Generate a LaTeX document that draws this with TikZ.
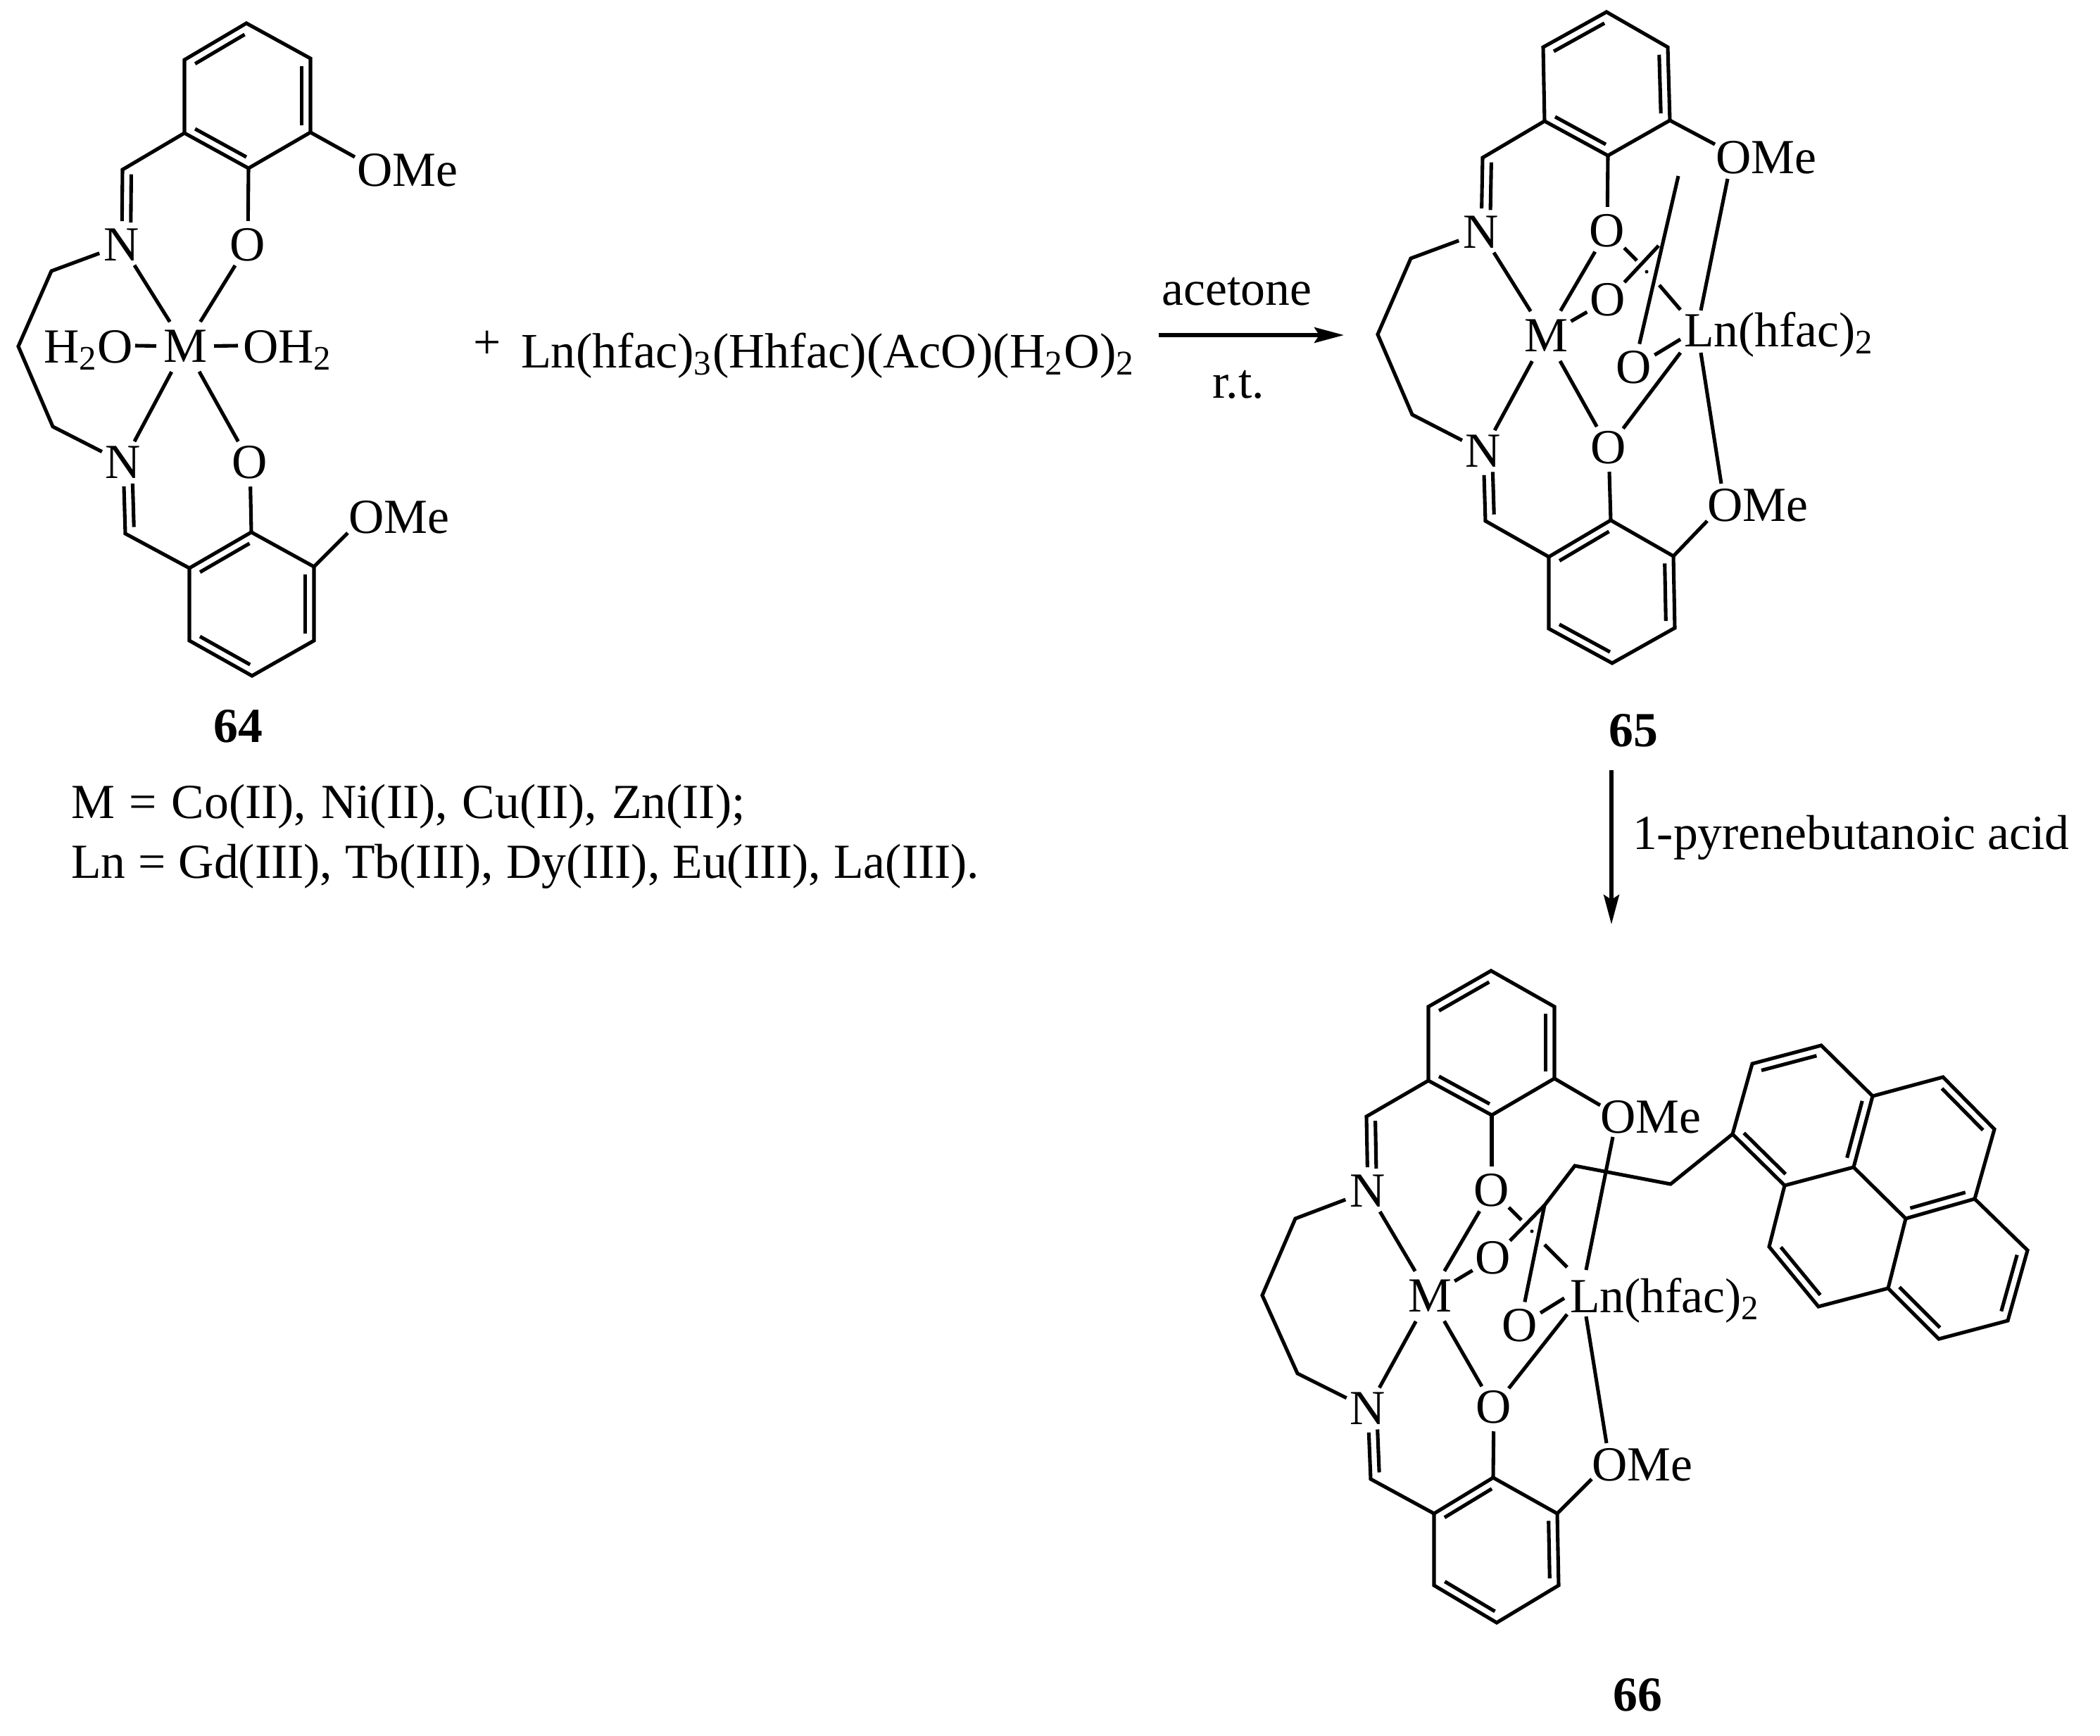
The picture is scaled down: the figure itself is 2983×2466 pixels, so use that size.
\documentclass[tikz,border=0pt]{standalone}
\usepackage{fontspec}
\setmainfont{Liberation Serif}
\usetikzlibrary{calc,arrows.meta}
\newcommand{\dbl}[2]{\draw ($(#1)!.1!(#2)!.125cm!-90:(#2)$) -- ($(#1)!.9!(#2)!.125cm!-90:(#2)$);}
\newcommand{\dblf}[4]{\draw ($(#1)!#3!(#2)!.125cm!-90:(#2)$) -- ($(#1)!#4!(#2)!.125cm!-90:(#2)$);}
\tikzset{
  every node/.style={font=\fontsize{19.8}{24}\selectfont,inner sep=0pt,outer sep=0pt},
  atomO/.style={circle,minimum size=.56cm},
  atomN/.style={circle,minimum size=.6cm},
  atomM/.style={circle,minimum size=.82cm},
  lab/.style={anchor=base west},
  cmpd/.style={font=\fontsize{19.8}{24}\selectfont\bfseries},
  rxn/.style={line width=1.5pt,-{Stealth[length=.42cm,width=.22cm,inset=.07cm]}}
}
\begin{document}
\begin{tikzpicture}[x=.01cm,y=-.01cm,line width=1.45pt]
\useasboundingbox (0,0) rectangle (2983,2466);
% ---------- 64
\coordinate (a1) at (350,33); \coordinate (a2) at (441,83); \coordinate (a3) at (441,188);
\coordinate (a4) at (353,239); \coordinate (a5) at (262,189); \coordinate (a6) at (262,85);
\coordinate (a7) at (174,241);
\node[atomN] (aN1) at (173,348) {N};
\node[atomO] (aO1) at (352,348) {O};
\node[lab] (aOMe1) at (507,264) {OMe};
\node[atomM] (aM) at (263,492) {M};
\node[lab] (aH2O) at (62,515) {H\textsubscript{2}O};
\node[lab] (aOH2) at (345,515) {OH\textsubscript{2}};
\node[atomN] (aN2) at (175,657) {N};
\node[atomO] (aO2) at (355,657) {O};
\node[lab] (aOMe2) at (495,757) {OMe};
\coordinate (a8) at (26,492); \coordinate (a9) at (73,385); \coordinate (a10) at (75,606);
\coordinate (a11) at (178,758);
\coordinate (b1) at (357,756); \coordinate (b2) at (446,805); \coordinate (b3) at (446,910);
\coordinate (b4) at (358,960); \coordinate (b5) at (269,910); \coordinate (b6) at (269,807);
\coordinate (aE1) at (504,223); \coordinate (aE2) at (494,757);
\coordinate (aE3) at (192,491); \coordinate (aE4) at (338,491);
\draw (a1)--(a2)--(a3)--(a4)--(a5)--(a6)--cycle;
\dbl{a6}{a1} \dbl{a2}{a3} \dbl{a4}{a5}
\draw (a5)--(a7)--(aN1); \dblf{aN1}{a7}{.3}{.94}
\draw (a3)--(aE1); \draw (a4)--(aO1);
\draw (aN1)--(aM); \draw (aO1)--(aM); \draw (aN2)--(aM); \draw (aO2)--(aM);
\draw (aE3)--(aM); \draw (aE4)--(aM);
\draw (aN1)--(a9)--(a8)--(a10)--(aN2);
\draw (aN2)--(a11)--(b6); \dblf{a11}{aN2}{.09}{.7}
\draw (aO2)--(b1);
\draw (b1)--(b2)--(b3)--(b4)--(b5)--(b6)--cycle;
\dbl{b6}{b1} \dbl{b2}{b3} \dbl{b4}{b5}
\draw (b2)--(aE2);
\node[cmpd] (n64) at (338,1032) {64};
\node[lab] (t1) at (101,1162) {\spaceskip=.3em\relax M = Co(II), Ni(II), Cu(II), Zn(II);};
\node[lab] (t2) at (101,1247) {\spaceskip=.26em\relax Ln = Gd(III), Tb(III), Dy(III), Eu(III), La(III).};
\node (plus) at (692,490) {+};
\node[lab,font=\fontsize{20}{24}\selectfont] (reag) at (740,522) {Ln(hfac)\textsubscript{3}(Hhfac)(AcO)(H\textsubscript{2}O)\textsubscript{2}};
% reaction 1
\coordinate (r1s) at (1646,476); \coordinate (r1e) at (1909,476);
\draw[rxn] (r1s)--(r1e);
\node[anchor=base] (acet) at (1757,433) {acetone};
\node[anchor=base] (rt) at (1759,565) {r.t.};
% ---------- 65
\coordinate (c1) at (2282,17); \coordinate (c2) at (2369,67); \coordinate (c3) at (2372,171);
\coordinate (c4) at (2284,221); \coordinate (c5) at (2194,172); \coordinate (c6) at (2192,67);
\coordinate (c7) at (2106,224);
\node[atomN] (cN1) at (2104,330) {N};
\node[atomO] (cO1) at (2283,328) {O};
\node[lab] (cOMe1) at (2437,246) {OMe};
\node[atomM] (cM) at (2196,477) {M};
\node[atomO] (cO2) at (2284,426) {O};
\node[atomO] (cO3) at (2321,522) {O};
\node[atomO] (cO4) at (2285,636) {O};
\node[atomN] (cN2) at (2107,641) {N};
\node[lab] (cOMe2) at (2425,740) {OMe};
\node[lab] (cLn) at (2392,492) {Ln(hfac)\textsubscript{2}};
\coordinate (cC) at (2356,349); \coordinate (cMe) at (2384,250);
\coordinate (cE1) at (2436,205); \coordinate (cE2) at (2325,370); \coordinate (cD) at (2339,386);
\coordinate (cE3) at (2357,405); \coordinate (cL1) at (2387,440);
\coordinate (cL2) at (2387,501); \coordinate (cL3) at (2387,482);
\coordinate (cL4) at (2416,441); \coordinate (cE4) at (2454,254);
\coordinate (cL5) at (2416,501); \coordinate (cE5) at (2445,687);
\coordinate (cE6) at (2425,740);
\coordinate (c8) at (2004,367); \coordinate (c9) at (1957,475); \coordinate (c10) at (2006,589);
\coordinate (c11) at (2110,740);
\coordinate (d1) at (2288,739); \coordinate (d2) at (2377,790); \coordinate (d3) at (2379,892);
\coordinate (d4) at (2290,942); \coordinate (d5) at (2200,893); \coordinate (d6) at (2200,791);
\draw (c1)--(c2)--(c3)--(c4)--(c5)--(c6)--cycle;
\dbl{c6}{c1} \dbl{c2}{c3} \dbl{c4}{c5}
\draw (c5)--(c7)--(cN1); \dblf{cN1}{c7}{.3}{.94}
\draw (c3)--(cE1); \draw (c4)--(cO1);
\draw (cN1)--(cM); \draw (cO1)--(cM); \draw (cN2)--(cM); \draw (cO4)--(cM); \draw (cO2)--(cM);
\draw (cN1)--(c8)--(c9)--(c10)--(cN2);
\draw (cMe)--(cO3); \draw (cC)--(cO2);
\draw (cO1)--(cE2); \fill (cD) circle[radius=.025cm]; \draw (cE3)--(cL1);
\draw (cO4)--(cL2); \draw (cO3)--(cL3); \draw (cL4)--(cE4); \draw (cL5)--(cE5);
\draw (cN2)--(c11)--(d6); \dblf{c11}{cN2}{.09}{.7}
\draw (cO4)--(d1);
\draw (d1)--(d2)--(d3)--(d4)--(d5)--(d6)--cycle;
\dbl{d6}{d1} \dbl{d2}{d3} \dbl{d4}{d5}
\draw (d2)--(cE6);
\node[cmpd] (n65) at (2320,1038) {65};
% reaction 2
\coordinate (r2s) at (2289,1094); \coordinate (r2e) at (2289,1313);
\draw[rxn] (r2s)--(r2e);
\node[lab] (pba) at (2319,1206) {1-pyrenebutanoic acid};
% pyrene coordinates
\coordinate (p1) at (2461,1611); \coordinate (p2) at (2489,1511); \coordinate (p3) at (2587,1485);
\coordinate (p4) at (2660,1557); \coordinate (p5) at (2760,1530); \coordinate (p6) at (2833,1604);
\coordinate (p7) at (2805,1703); \coordinate (p8) at (2880,1776); \coordinate (p9) at (2852,1876);
\coordinate (p10) at (2754,1902); \coordinate (p11) at (2682,1830); \coordinate (p12) at (2583,1856);
\coordinate (p13) at (2513,1771); \coordinate (p14) at (2535,1684); \coordinate (p15) at (2633,1658);
\coordinate (p16) at (2707,1731);
% ---------- 66
\coordinate (e1) at (2118,1379); \coordinate (e2) at (2208,1430); \coordinate (e3) at (2208,1532);
\coordinate (e4) at (2119,1584); \coordinate (e5) at (2029,1535); \coordinate (e6) at (2029,1430);
\coordinate (e7) at (1941,1586);
\node[atomN] (eN1) at (1943,1692) {N};
\node[atomO] (eO1) at (2119,1691) {O};
\node[lab] (eOMe1) at (2273,1609) {OMe};
\node[atomM] (eM) at (2031,1841) {M};
\node[atomO] (eO2) at (2121,1787) {O};
\node[atomO] (eO3) at (2159,1883) {O};
\node[atomO] (eO4) at (2122,1999) {O};
\node[atomN] (eN2) at (1943,2001) {N};
\node[lab] (eOMe2) at (2261,2103) {OMe};
\node[lab] (eLn) at (2230,1864) {Ln(hfac)\textsubscript{2}};
\coordinate (eC) at (2194,1712); \coordinate (eC2) at (2237,1656); \coordinate (eC3) at (2373,1682);
\coordinate (eE1) at (2273,1570); \coordinate (eE2) at (2161,1733); \coordinate (eD) at (2176,1749);
\coordinate (eE3) at (2194,1768); \coordinate (eL1) at (2226,1800);
\coordinate (eL2) at (2226,1867); \coordinate (eL3) at (2222,1844);
\coordinate (eL4) at (2253,1804); \coordinate (eE4) at (2291,1615);
\coordinate (eL5) at (2253,1870); \coordinate (eE5) at (2282,2050);
\coordinate (eE6) at (2261,2101);
\coordinate (e8) at (1840,1731); \coordinate (e9) at (1793,1840); \coordinate (e10) at (1843,1951);
\coordinate (e11) at (1947,2101);
\coordinate (f1) at (2121,2099); \coordinate (f2) at (2212,2150); \coordinate (f3) at (2214,2252);
\coordinate (f4) at (2126,2305); \coordinate (f5) at (2037,2252); \coordinate (f6) at (2037,2150);
\draw (e1)--(e2)--(e3)--(e4)--(e5)--(e6)--cycle;
\dbl{e6}{e1} \dbl{e2}{e3} \dbl{e4}{e5}
\draw (e5)--(e7)--(eN1); \dblf{eN1}{e7}{.3}{.94}
\draw (e3)--(eE1); \draw (e4)--(eO1);
\draw (eN1)--(eM); \draw (eO1)--(eM); \draw (eN2)--(eM); \draw (eO4)--(eM); \draw (eO2)--(eM);
\draw (eN1)--(e8)--(e9)--(e10)--(eN2);
\draw (eO3)--(eC)--(eC2)--(eC3)--(p1); \draw (eC)--(eO2);
\draw (eO1)--(eE2); \fill (eD) circle[radius=.025cm]; \draw (eE3)--(eL1);
\draw (eO4)--(eL2); \draw (eO3)--(eL3); \draw (eL4)--(eE4); \draw (eL5)--(eE5);
\draw (eN2)--(e11)--(f6); \dblf{e11}{eN2}{.09}{.7}
\draw (eO4)--(f1);
\draw (f1)--(f2)--(f3)--(f4)--(f5)--(f6)--cycle;
\dbl{f6}{f1} \dbl{f2}{f3} \dbl{f4}{f5}
\draw (f2)--(eE6);
\node[cmpd] (n66) at (2326,2408) {66};
% pyrene
\draw (p1)--(p2)--(p3)--(p4)--(p5)--(p6)--(p7)--(p8)--(p9)--(p10)--(p11)--(p12)--(p13)--(p14)--cycle;
\draw (p14)--(p15)--(p4); \draw (p15)--(p16)--(p7); \draw (p16)--(p11);
\dbl{p2}{p3} \dbl{p5}{p6} \dbl{p4}{p15} \dbl{p14}{p1} \dbl{p7}{p16} \dbl{p8}{p9} \dbl{p10}{p11} \dbl{p12}{p13}
\end{tikzpicture}
\end{document}
